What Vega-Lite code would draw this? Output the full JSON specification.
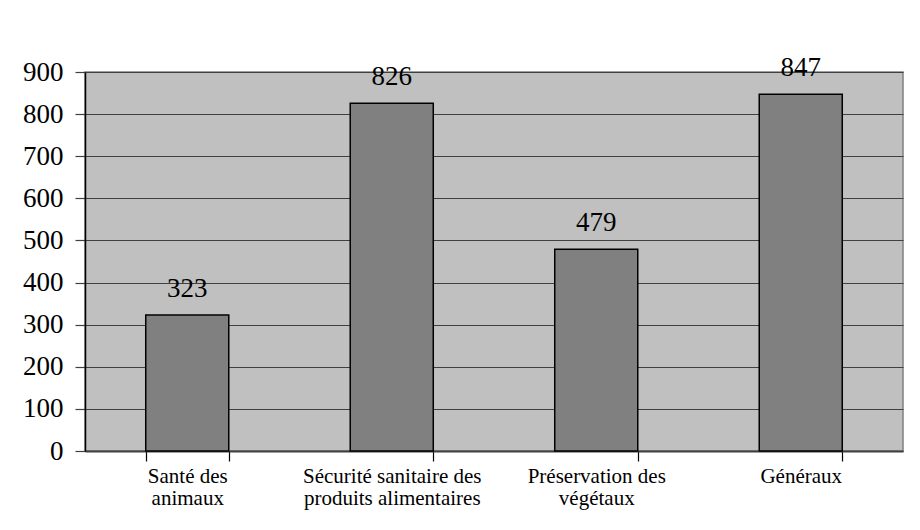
{
  "$schema": "https://vega.github.io/schema/vega-lite/v6.json",
  "width": 818,
  "height": 379,
  "autosize": {"type": "none"},
  "padding": {"left": 85, "top": 72, "right": 17, "bottom": 79},
  "background": "white",
  "config": {
    "view": {"fill": "#C0C0C0", "stroke": "#808080", "strokeWidth": 1.5},
    "font": "Liberation Serif"
  },
  "data": {
    "values": [
      {"cat": "Santé des|animaux", "value": 323},
      {"cat": "Sécurité sanitaire des|produits alimentaires", "value": 826},
      {"cat": "Préservation des|végétaux", "value": 479},
      {"cat": "Généraux", "value": 847}
    ]
  },
  "encoding": {
    "x": {
      "field": "cat",
      "type": "nominal",
      "sort": null,
      "scale": {"paddingInner": 0.594, "paddingOuter": 0.297},
      "axis": {
        "title": null,
        "labelAngle": 0,
        "labelExpr": "split(datum.label, '|')",
        "labelFont": "Liberation Serif",
        "labelFontSize": 21,
        "labelColor": "black",
        "labelLineHeight": 22,
        "labelPadding": 4,
        "labelBaseline": "top",
        "tickBand": "extent",
        "tickSize": 10,
        "tickColor": "black",
        "tickWidth": 1.2,
        "domainColor": "#404040",
        "domainWidth": 2,
        "grid": false
      }
    },
    "y": {
      "field": "value",
      "type": "quantitative",
      "scale": {"domain": [0, 900], "nice": false},
      "axis": {
        "title": null,
        "values": [0, 100, 200, 300, 400, 500, 600, 700, 800, 900],
        "labelFont": "Liberation Serif",
        "labelFontSize": 27,
        "labelColor": "black",
        "labelPadding": 12,
        "tickSize": 10,
        "tickColor": "#404040",
        "tickWidth": 1.2,
        "domainColor": "black",
        "domainWidth": 1.5,
        "grid": true,
        "gridColor": "#404040",
        "gridWidth": 1.2,
        "gridOpacity": 1
      }
    }
  },
  "layer": [
    {
      "mark": {"type": "bar", "fill": "#808080", "stroke": "black", "strokeWidth": 1.5}
    },
    {
      "mark": {"type": "text", "baseline": "alphabetic", "dy": -18, "fontSize": 27, "font": "Liberation Serif", "color": "black"},
      "encoding": {"text": {"field": "value", "type": "quantitative"}}
    }
  ]
}
